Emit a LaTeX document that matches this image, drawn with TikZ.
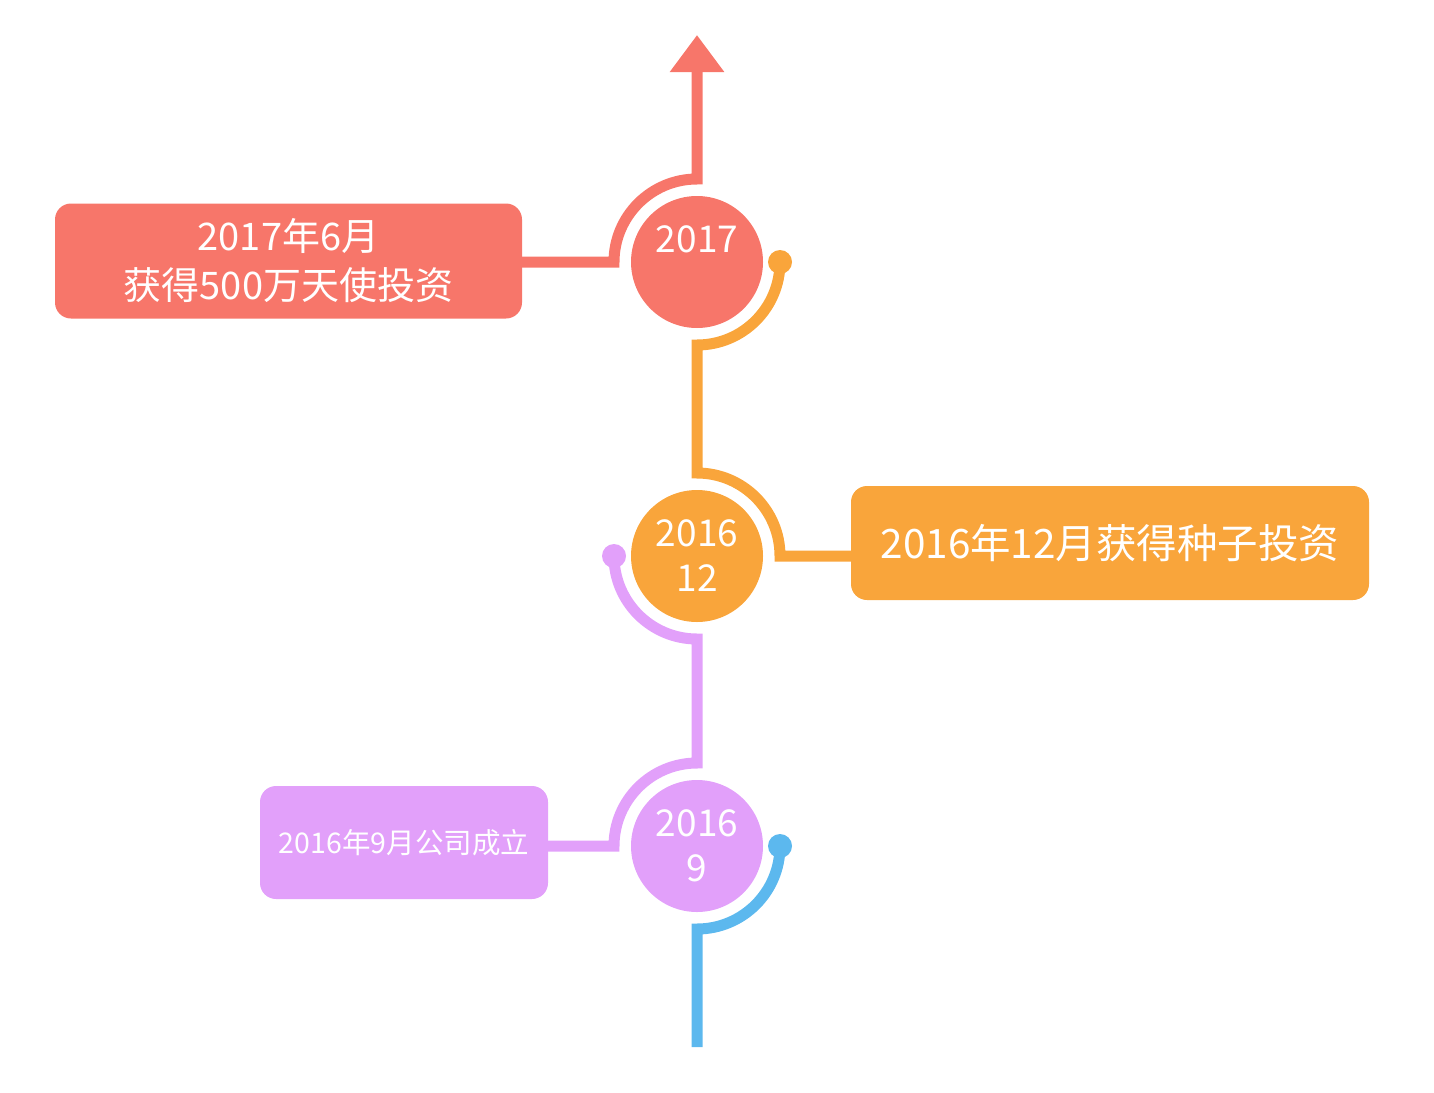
\documentclass[tikz,border=0pt]{standalone}
\usepackage{fontspec}
\setmainfont{Noto Sans CJK SC}
\usetikzlibrary{arrows.meta,calc}
\definecolor{tlred}{RGB}{247,118,106}
\definecolor{tlorange}{RGB}{249,165,59}
\definecolor{tlpurple}{RGB}{226,160,250}
\definecolor{tlblue}{RGB}{92,184,238}

\begin{document}
\begin{tikzpicture}[x=1pt,y=1pt,
  year/.style={circle, minimum size=132pt, inner sep=0pt, text=white,
    align=center, font=\fontsize{37}{45}\selectfont},
  eventbox/.style={rounded corners=16pt, inner sep=0pt, text=white, align=center},
  tline/.style={line width=11pt}]
\useasboundingbox (0,0) rectangle (1434,-1092);
% year circles
\node[year, fill=tlred] (c17) at (697,-262) {2017\\\phantom{0}};
\node[year, fill=tlorange] (c1612) at (697,-556) {2016\\12};
\node[year, fill=tlpurple] (c169) at (697,-846) {2016\\9};
% event boxes
\node[eventbox, fill=tlred, minimum width=467pt, minimum height=115pt,
      font=\fontsize{38}{49}\selectfont] (e17) at (288.5,-261)
      {2017年6月\\获得500万天使投资};
\node[eventbox, fill=tlorange, minimum width=518pt, minimum height=114pt,
      font=\fontsize{40.5}{49}\selectfont] (e1612) at (1110,-543)
      {2016年12月获得种子投资};
\node[eventbox, fill=tlpurple, minimum width=288pt, minimum height=113pt,
      font=\fontsize{28.5}{34}\selectfont] (e169) at (404,-842.5)
      {2016年9月公司成立};
% ends of the line
\coordinate (top) at (696,-35);
\coordinate (bottom) at (696,-1047);
\coordinate (o17) at ($(c17)+(0:83)$);
\coordinate (p1612) at ($(c1612)+(180:83)$);
\coordinate (b169) at ($(c169)+(0:83)$);
% red: 2017 up to the arrow
\draw[tline, tlred, -{Triangle[length=37pt,width=52pt]}]
  (c17 -| e17.east) -- ($(c17)+(180:83)$) arc[start angle=180, end angle=90, radius=83] -- (top -| c17);
% orange: 2016.12
\fill[tlorange] (o17) circle[radius=12pt];
\draw[tline, tlorange] (o17) arc[start angle=0, end angle=-90, radius=83]
  -- ($(c1612)+(90:83)$) arc[start angle=90, end angle=0, radius=83] -- (c1612 -| e1612.west);
% purple: 2016.9
\fill[tlpurple] (p1612) circle[radius=12pt];
\draw[tline, tlpurple] (p1612) arc[start angle=180, end angle=270, radius=83]
  -- ($(c169)+(90:83)$) arc[start angle=90, end angle=180, radius=83] -- (c169 -| e169.east);
% blue: start of the line
\fill[tlblue] (b169) circle[radius=12pt];
\draw[tline, tlblue] (b169) arc[start angle=0, end angle=-90, radius=83] -- (bottom -| c169);
\end{tikzpicture}
\end{document}
